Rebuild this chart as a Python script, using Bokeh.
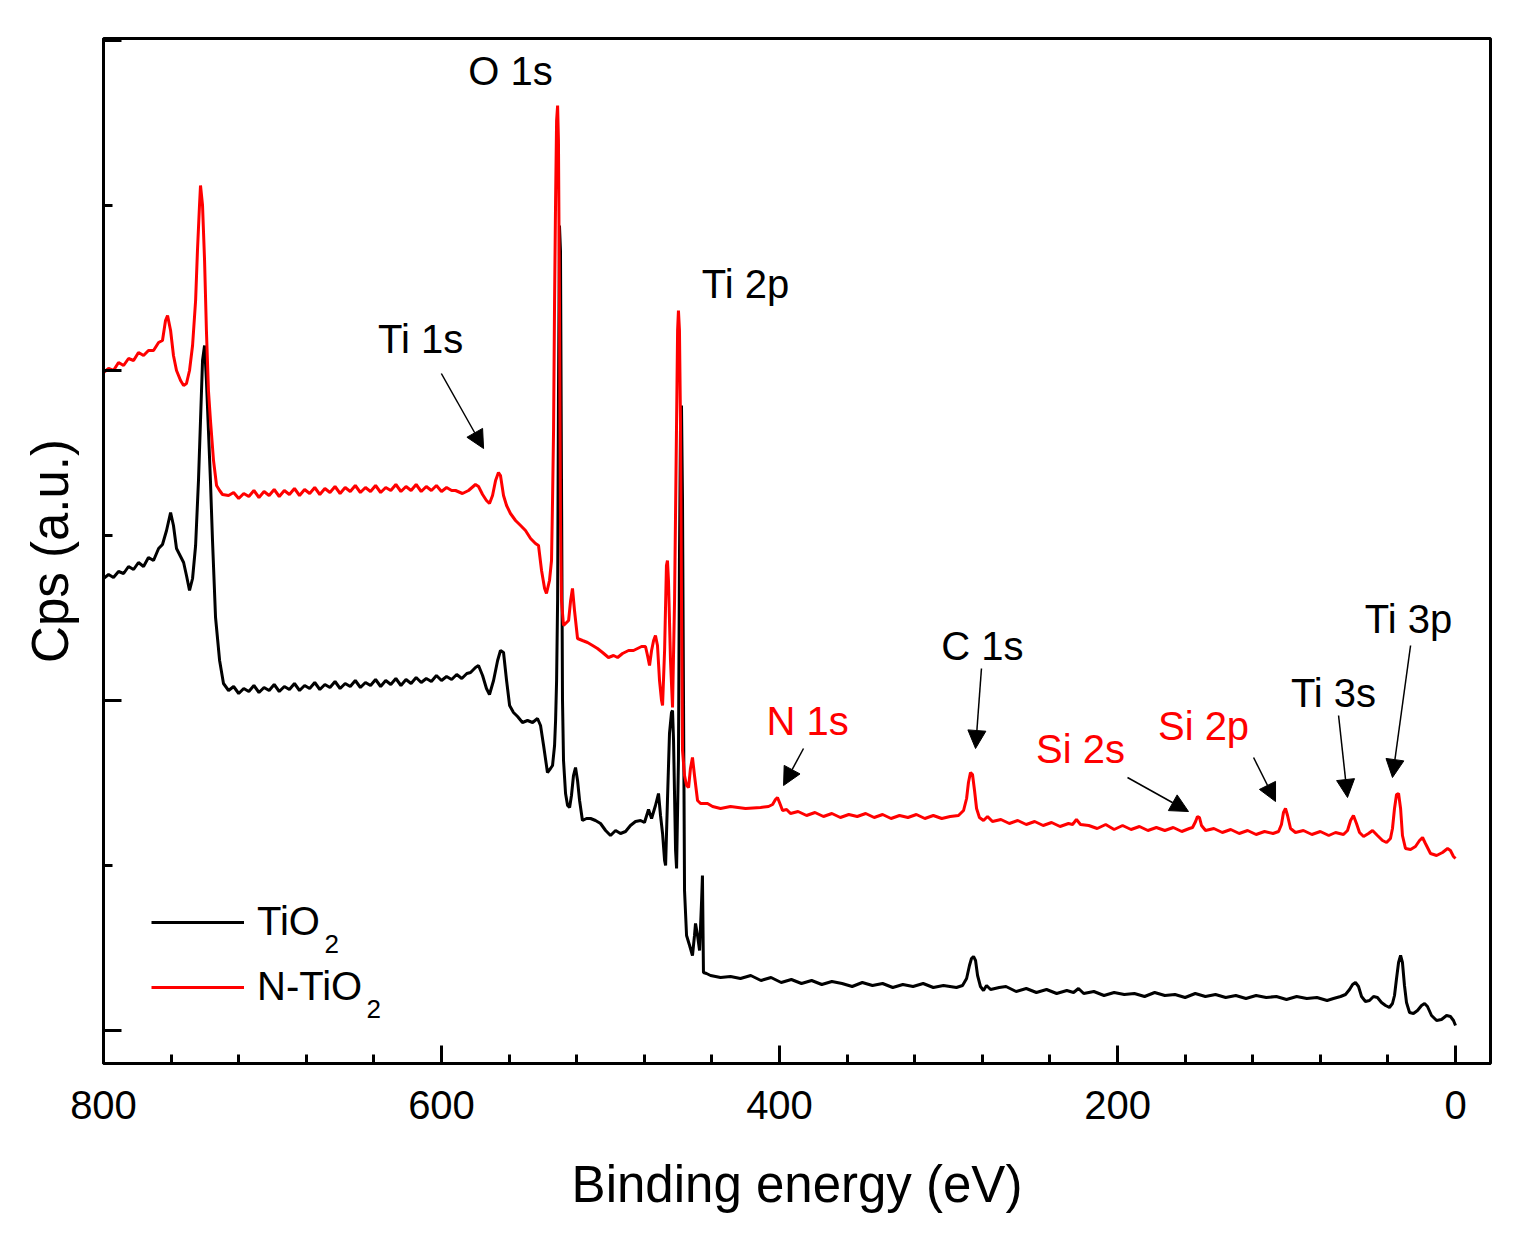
from bokeh.embed import file_html
from bokeh.models import (Arrow, CustomJSTickFormatter, FixedTicker, Label, Legend,
                          LegendItem, NormalHead, Range1d)
from bokeh.plotting import figure
from bokeh.resources import INLINE

FONT = "Liberation Sans"

# XPS survey, TiO2: binding energy (eV) and counts (a.u.)
tio2_be = [
    800.0, 797.0, 794.1, 791.1, 788.1, 785.2, 782.2, 779.3, 776.3, 773.4,
    770.4, 767.4, 765.1, 762.7, 760.3, 758.6, 756.8, 754.4, 752.6, 750.9,
    749.1, 747.3, 745.5, 743.8, 742.6, 741.4, 740.2, 739.1, 737.9, 736.7,
    735.5, 733.7, 731.3, 729.0, 726.0,
    723, 720, 717, 714, 711, 708, 705, 702, 699, 696,
    693, 690, 687, 684, 681, 678, 675, 672, 669, 666,
    663, 660, 657, 654, 651, 648, 645, 642, 639, 636,
    633, 630, 627, 624, 621, 618, 615, 612, 609, 606,
    603, 600, 597, 594, 591, 588, 585,
    582.8, 579.9, 578.1, 575.7, 573.4, 571.6, 569.2, 566.8, 565.1, 563.3,
    561.5, 559.7, 557.4, 555.0, 552.1, 549.1, 546.1, 543.2, 541.4, 539.6,
    537.3, 535.5, 534.3, 533.1, 532.5, 531.9, 531.3, 530.8, 530.2, 529.6,
    529.0, 528.4, 527.8, 526.6, 525.4, 524.2, 523.1, 521.9, 520.7, 519.5,
    518.3, 516.6, 514.2, 511.8, 508.9, 505.9, 502.9, 500.0, 497.0, 494.1,
    491.1, 488.2, 485.2, 482.2, 479.9, 477.5, 475.7, 473.4, 471.6, 470.4,
    469.2, 468.0, 467.4, 466.3, 465.1, 463.9, 463.3, 462.7, 461.5, 460.9,
    459.8, 459.2, 458.6, 458.0, 457.4, 456.8, 456.2, 455.0, 453.2, 451.5,
    450.3, 449.7, 448.5, 447.3, 446.1, 445.6, 445.0, 443.2, 440.8, 434.9,
    429.0, 423.1,
    417, 411, 405, 399, 393, 387, 381, 375, 369, 363,
    357, 351, 345, 339, 333, 327, 321, 315, 309, 303,
    295.3, 291.7, 289.3, 287.6, 286.4, 285.2, 284.0, 282.8, 281.1, 279.3,
    277.5, 275.1, 270.0,
    266, 260, 254, 248, 242, 236, 230, 226, 223.1, 220,
    214, 208, 202, 196, 190, 184, 178, 172, 166, 160,
    154, 148, 142, 136, 130, 124, 118, 112, 106, 100,
    94, 88, 82, 76,
    72.2, 68.0, 65.1, 62.7, 60.9, 59.2, 57.4, 55.6, 53.3,
    50.9, 48.5, 46.2, 43.8, 41.4, 39.1, 37.3, 36.1, 34.9, 33.7,
    32.5, 31.4, 30.2, 29.0, 27.2, 24.9, 22.5, 20.1, 18.3, 16.6,
    14.2, 11.2, 8.3, 5.3, 3.0, 1.2, 0.0,
]
tio2_cps = [
    452, 456, 453, 459, 457, 464, 461, 468, 464, 473,
    470, 482, 486, 500, 518, 505, 482, 474, 468, 455,
    440, 452, 485, 550, 610, 670, 685, 650, 600, 549,
    490, 413, 370, 347, 340,
    344, 337, 342, 339, 345, 338, 343, 340, 346, 339,
    344, 341, 347, 340, 345, 342, 348, 341, 346, 343,
    349, 342, 347, 344, 350, 343, 348, 345, 351, 344,
    350, 346, 352, 345, 351, 347, 353, 348, 352, 349,
    355, 350, 354, 351, 356, 352, 357,
    358, 363, 365, 355, 342, 336, 350, 370, 380, 378,
    350, 325, 318, 314, 308, 310, 308, 312, 305, 285,
    258, 262, 265, 285, 310, 350, 430, 630, 805, 780,
    550, 330, 270, 237, 225, 223, 235, 255, 263, 250,
    230, 210, 212, 212, 210, 207, 200, 195, 200, 197,
    199, 205, 209, 210, 208, 221, 212, 225, 237, 215,
    197, 170, 165, 230, 297, 318, 320, 290, 180, 162,
    270, 470, 600, 625, 530, 330, 140, 95, 85, 75,
    95, 107, 95, 80, 130, 155, 58, 57, 55, 53,
    54, 52,
    55, 50, 53, 48, 51, 47, 50, 46, 49, 47,
    44, 48, 45, 47, 43, 46, 44, 47, 43, 45,
    43, 45, 52, 65, 72, 74, 70, 55, 44, 40,
    45, 41, 43,
    44, 39, 42, 38, 41, 37, 40, 38, 42, 37,
    39, 35, 38, 36, 37, 34, 38, 35, 36, 33,
    37, 34, 36, 33, 35, 32, 35, 33, 34, 31,
    34, 32, 33, 30,
    32, 34, 36, 41, 46, 48, 44, 34, 29,
    30, 34, 33, 28, 25, 23, 27, 35, 52, 68,
    75, 68, 45, 28, 18, 17, 20, 25, 27, 24,
    15, 10, 11, 15, 14, 10, 5,
]

# XPS survey, N-doped TiO2
ntio2_be = [
    800.0, 797.0, 794.1, 791.1, 788.1, 785.2, 782.2, 779.3, 776.3, 773.4,
    770.4, 767.4, 765.1, 763.3, 762.1, 760.3, 758.6, 756.8, 754.4, 752.6,
    750.9, 749.1, 747.3, 745.5, 744.4, 743.2, 742.6, 742.0, 741.4, 740.2,
    739.1, 737.9, 736.7, 734.9, 733.1, 731.3, 729.6, 726.0,
    723, 720, 717, 714, 711, 708, 705, 702, 699, 696,
    693, 690, 687, 684, 681, 678, 675, 672, 669, 666,
    663, 660, 657, 654, 651, 648, 645, 642, 639, 636,
    633, 630, 627, 624, 621, 618, 615, 612, 609, 606,
    603, 600, 597, 594,
    591.7, 587.6, 584.0, 579.9, 578.1, 575.7, 573.4, 571.6, 569.8, 568.0,
    566.3, 565.1, 563.3, 561.5, 559.2, 556.2, 553.2, 550.3, 547.3, 544.4,
    542.6, 540.8, 539.0, 537.9, 536.1, 534.9, 534.3, 533.7, 533.1, 532.5,
    531.9, 531.3, 530.8, 530.2, 529.6, 529.0, 527.8, 526.0, 524.8, 523.6,
    522.5, 521.3, 519.5, 516.6, 513.6, 510.6, 507.7, 504.7, 501.2, 498.2,
    495.8, 492.9, 489.3, 486.4, 484.0, 481.6, 479.3, 478.1, 476.9, 475.7,
    474.5, 473.4, 472.2, 471.0, 469.8, 469.2, 468.0, 466.9, 466.3, 465.7,
    464.5, 463.3, 462.1, 460.9, 460.3, 459.8, 459.2, 458.6, 458.0, 457.4,
    456.2, 455.0, 453.8, 452.7, 451.5, 450.3, 448.5, 446.7, 442.6, 439.6,
    434.9, 429.0, 420.1, 411.2, 406.5, 404.1, 402.4, 401.2, 400.0, 398.2,
    395.8, 393.5, 389, 384, 379, 374, 369, 364, 359, 354,
    349, 344, 339, 334, 329, 324, 319, 314, 309, 304,
    299, 294.1,
    291.1, 289.3, 288.2, 287.0, 285.8, 284.6, 283.4, 281.7, 279.3, 276.9,
    274.0,
    269, 264, 259, 254, 249, 244, 239, 234, 229, 226.6,
    224.3, 221.9, 217, 212, 207, 202, 197, 192, 187, 182,
    177, 172, 167, 162, 157.5, 155.6,
    153.8, 152.7, 151.5, 150.3, 147.9,
    143, 138, 133, 128, 123, 118, 113, 108, 104.7,
    103.0, 101.8, 100.6, 99.4, 97.6, 94.7,
    90, 85, 80, 75, 71.0,
    66.3, 63.9, 62.1, 60.4, 58.6, 56.8, 54.4, 51.5, 49.1, 46.2,
    43.2, 40.8, 38.5, 37.3, 36.1, 34.9, 33.7, 32.5, 31.4, 29.6,
    26.6, 23.7, 21.3, 19.5, 17.8, 14.8, 11.2, 7.7, 4.7, 3.0,
    1.2, 0.0,
]
ntio2_cps = [
    658, 662, 660, 668, 665, 672, 670, 678, 675, 680,
    680, 688, 690, 710, 715, 700, 675, 660, 650, 645,
    647, 660, 685, 730, 780, 825, 845, 835, 825, 770,
    700, 640, 610, 570, 545, 540, 536, 535,
    538, 532, 537, 534, 540, 533, 539, 535, 541, 534,
    540, 536, 542, 535, 541, 537, 543, 536, 542, 538,
    544, 537, 543, 539, 545, 538, 543, 539, 545, 538,
    543, 540, 546, 539, 544, 540, 546, 539, 544, 540,
    545, 539, 543, 540,
    540, 537, 540, 546, 544, 536, 530, 527, 535, 550,
    558, 555, 535, 525, 517, 510, 505, 500, 492, 487,
    485, 460, 442, 437, 450, 470, 530, 600, 730, 830,
    910, 925, 890, 730, 510, 430, 405, 408, 410, 430,
    442, 420, 392, 390, 388, 385, 382, 378, 373, 375,
    373, 377, 380, 380, 382, 384, 384, 375, 365, 380,
    390, 395, 385, 350, 330, 325, 380, 465, 470, 450,
    370, 323, 430, 610, 700, 720, 700, 610, 430, 280,
    255, 245, 243, 262, 273, 255, 230, 227, 227, 224,
    222, 224, 222, 223, 224, 226, 231, 233, 228, 220,
    221, 217, 219, 215, 218, 214, 217, 213, 216, 214,
    217, 213, 216, 212, 215, 213, 216, 212, 215, 212,
    214, 215,
    220, 232, 248, 258, 256, 240, 222, 213, 210, 214,
    209,
    211, 207, 210, 206, 209, 205, 208, 204, 207, 206,
    211, 206, 205, 202, 206, 201, 205, 201, 204, 200,
    203, 200, 203, 199, 202, 203,
    209, 214, 213, 205, 200,
    202, 198, 201, 197, 200, 196, 199, 197, 199,
    206, 218, 222, 215, 202, 198,
    200, 196, 199, 195, 198,
    196, 200, 210, 215, 207, 198, 194, 197, 200, 195,
    190, 188, 192, 202, 222, 236, 237, 222, 195, 182,
    181, 184, 190, 193, 187, 177, 175, 178, 182, 180,
    174, 172,
]

# legend names are written as base + lowered subscript
series_names = ["TiO", "N-TiO"]
series_subscripts = ["2", "2"]
series_colors = ["black", "red"]

x_major = [0, 200, 400, 600, 800]
x_minor = [40, 80, 120, 160, 240, 280, 320, 360, 440, 480, 520, 560,
           640, 680, 720, 760]
y_major = [0, 330, 660, 990]
y_minor = [165, 495, 825]

# peak labels: text, label position, arrow (start, end) or None, colour
peak_labels = [
    ("O 1s", (559.2, 960), None, "black"),
    ("Ti 2p", (420.1, 747), None, "black"),
    ("Ti 1s", (612.4, 692), ((600.1, 657), (575.1, 582)), "black"),
    ("N 1s", (383.4, 310), ((385.8, 282), (397.6, 245)), "red"),
    ("C 1s", (279.9, 385), ((280.5, 362), (284.0, 282)), "black"),
    ("Si 2s", (221.9, 282), ((194.1, 253), (158.0, 219)), "red"),
    ("Si 2p", (149.1, 305), ((119.5, 273), (106.5, 229)), "red"),
    ("Ti 3s", (72.2, 338), ((69.2, 315), (63.9, 233)), "black"),
    ("Ti 3p", (27.8, 412), ((26.6, 385), (37.3, 253)), "black"),
]

p = figure(width=1515, height=1234, output_backend="svg", toolbar_location=None,
           x_range=Range1d(800, -20.7), y_range=Range1d(-33, 992),
           min_border_left=103, min_border_right=25, min_border_top=38,
           min_border_bottom=171)

p.xgrid.grid_line_color = None
p.ygrid.grid_line_color = None
p.outline_line_color = "black"
p.outline_line_width = 3
p.background_fill_color = "white"
p.border_fill_color = "white"

r1 = p.line(tio2_be, tio2_cps, line_color=series_colors[0], line_width=3)
r2 = p.line(ntio2_be, ntio2_cps, line_color=series_colors[1], line_width=3)

for text, (lx, ly), arrow, color in peak_labels:
    p.add_layout(Label(x=lx, y=ly, text=text, text_align="center",
                       text_baseline="middle", text_font=FONT,
                       text_font_size="40px", text_color=color))
    if arrow:
        (x0, y0), (x1, y1) = arrow
        p.add_layout(Arrow(end=NormalHead(size=18, fill_color="black",
                                          line_color="black"),
                           x_start=x0, y_start=y0, x_end=x1, y_end=y1,
                           line_color="black", line_width=1.5))

p.xaxis.ticker = FixedTicker(ticks=x_major, minor_ticks=x_minor)
p.yaxis.ticker = FixedTicker(ticks=y_major, minor_ticks=y_minor)
p.yaxis.formatter = CustomJSTickFormatter(code="return ''")
p.xaxis.axis_label = "Binding energy (eV)"
p.yaxis.axis_label = "Cps (a.u.)"
for ax in (p.xaxis, p.yaxis):
    ax.axis_line_width = 3
    ax.axis_line_color = "black"
    ax.major_tick_line_width = 3
    ax.minor_tick_line_width = 3
    ax.major_tick_in = 18
    ax.major_tick_out = 0
    ax.minor_tick_in = 9
    ax.minor_tick_out = 0
    ax.axis_label_text_font = FONT
    ax.axis_label_text_font_size = "51px"
    ax.axis_label_text_font_style = "normal"
    ax.axis_label_text_color = "black"
    ax.major_label_text_font = FONT
    ax.major_label_text_color = "black"
    ax.major_label_text_font_size = "40px"
p.xaxis.major_label_standoff = 27
p.xaxis.axis_label_standoff = 34
p.yaxis.major_label_standoff = 0
p.yaxis.axis_label_standoff = 25

legend = Legend(items=[LegendItem(label=series_names[0], renderers=[r1]),
                       LegendItem(label=series_names[1], renderers=[r2])],
                location=(48, 54), background_fill_alpha=0,
                border_line_color=None, label_text_font=FONT,
                label_text_color="black",
                label_text_font_size="40px", glyph_width=93, glyph_height=40,
                label_height=45, spacing=20, label_standoff=13, padding=10,
                margin=0)
p.add_layout(legend)

# subscripts after the legend labels (Legend has no rich text)
for sub, (sx, sy) in zip(series_subscripts, [(669.2, 87), (644.4, 22)]):
    p.add_layout(Label(x=sx, y=sy, text=sub, text_align="left",
                       text_baseline="middle", text_font=FONT,
                       text_font_size="26px", text_color="black"))

open("out.html", "w").write(file_html(p, INLINE))
